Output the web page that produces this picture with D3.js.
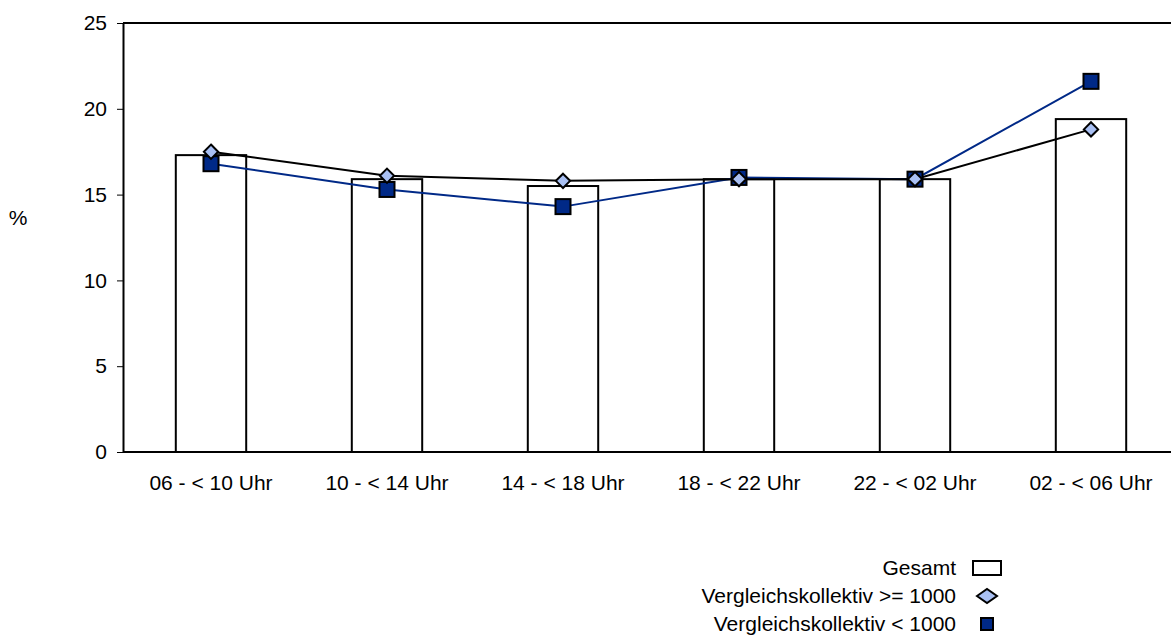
<!DOCTYPE html>
<html>
<head>
<meta charset="utf-8">
<script src="https://cdn.jsdelivr.net/npm/d3@7"></script>
<style>
  html, body { margin: 0; padding: 0; background: #fff; }
  svg { display: block; font-family: "Liberation Sans", Arial, sans-serif; }
</style>
</head>
<body>
<svg id="chart" width="1171" height="637"></svg>
<script>
// Time windows of the day
const categories = ["06 - < 10 Uhr", "10 - < 14 Uhr", "14 - < 18 Uhr", "18 - < 22 Uhr", "22 - < 02 Uhr", "02 - < 06 Uhr"];
// Share in percent
const gesamt = [17.3, 15.9, 15.5, 15.9, 15.9, 19.4];
const vergleichGross = [17.5, 16.1, 15.8, 15.9, 15.9, 18.8];
const vergleichKlein = [16.8, 15.3, 14.3, 16.0, 15.9, 21.6];
const yTicks = [0, 5, 10, 15, 20, 25];
const seriesNames = ["Gesamt", "Vergleichskollektiv >= 1000", "Vergleichskollektiv < 1000"];

const svg = d3.select("#chart");
const plotLeft = 123, plotTop = 23, plotBottom = 452, plotRight = 1179;
const fontSize = 21;
const fontFamily = "Liberation Sans, Arial, sans-serif";

const x = d3.scaleBand().domain(categories).range([plotLeft, plotRight]).paddingInner(0.6).paddingOuter(0.3);
const y = d3.scaleLinear().domain([0, 25]).range([plotBottom, plotTop]);

const darkBlue = "#002987";
const lightBlue = "#a9c0f3";

// Top frame line
svg.append("line").attr("x1", plotLeft).attr("x2", plotRight).attr("y1", y(25)).attr("y2", y(25))
  .attr("stroke", "#000").attr("stroke-width", 2);

// Y axis
const yAxis = svg.append("g").attr("transform", `translate(${plotLeft},0)`)
  .call(d3.axisLeft(y).tickValues(yTicks).tickSize(6).tickPadding(10).tickSizeOuter(0));
yAxis.attr("font-size", fontSize).attr("font-family", fontFamily);
yAxis.select(".domain").attr("stroke", "#000").attr("stroke-width", 2);
yAxis.selectAll(".tick line").attr("stroke", "#000").attr("stroke-width", 1);
yAxis.selectAll(".tick text").attr("fill", "#000");

// Bars
const cx = d => x(d) + x.bandwidth() / 2;
svg.append("g").selectAll("rect").data(categories).join("rect")
  .attr("x", d => x(d))
  .attr("width", x.bandwidth())
  .attr("y", (d, i) => y(gesamt[i]))
  .attr("height", (d, i) => y(0) - y(gesamt[i]))
  .attr("fill", "#fff").attr("stroke", "#000").attr("stroke-width", 2);

// X axis baseline
svg.append("line").attr("x1", plotLeft).attr("x2", plotRight).attr("y1", y(0)).attr("y2", y(0))
  .attr("stroke", "#000").attr("stroke-width", 2);

// X axis labels
const xAxis = svg.append("g").attr("transform", `translate(0,${y(0)})`)
  .call(d3.axisBottom(x).tickSize(0).tickPadding(23));
xAxis.attr("font-size", fontSize).attr("font-family", fontFamily);
xAxis.select(".domain").remove();
xAxis.selectAll(".tick text").attr("fill", "#000");

// Lines
const line = d3.line().x((d, i) => cx(categories[i])).y(d => y(d));
svg.append("path").datum(vergleichKlein).attr("d", line)
  .attr("fill", "none").attr("stroke", darkBlue).attr("stroke-width", 2);
svg.append("path").datum(vergleichGross).attr("d", line)
  .attr("fill", "none").attr("stroke", "#000").attr("stroke-width", 2);

// Square markers
const sq = 15;
svg.append("g").selectAll("rect").data(vergleichKlein).join("rect")
  .attr("x", (d, i) => cx(categories[i]) - sq / 2)
  .attr("y", d => y(d) - sq / 2)
  .attr("width", sq).attr("height", sq)
  .attr("fill", darkBlue).attr("stroke", "#000").attr("stroke-width", 2);

// Diamond markers
const dia = d3.symbol().type(d3.symbolDiamond2).size(130);
svg.append("g").selectAll("path").data(vergleichGross).join("path")
  .attr("d", dia)
  .attr("transform", (d, i) => `translate(${cx(categories[i])},${y(d)})`)
  .attr("fill", lightBlue).attr("stroke", "#000").attr("stroke-width", 2);

// Y axis unit label
svg.append("text").attr("x", 18).attr("y", 225).attr("text-anchor", "middle")
  .attr("font-size", fontSize).attr("font-family", fontFamily).text("%");

// Legend
const lg = svg.append("g").attr("font-size", fontSize).attr("font-family", fontFamily);
const legendX = 956, markX = 987;
const legendBase = [575, 603, 631];
const legendMid = [568, 596, 624];
lg.selectAll("text").data(seriesNames).join("text")
  .attr("x", legendX).attr("y", (d, i) => legendBase[i])
  .attr("text-anchor", "end").text(d => d);
lg.append("rect").attr("x", markX - 14).attr("y", legendMid[0] - 7).attr("width", 28).attr("height", 14)
  .attr("fill", "#fff").attr("stroke", "#000").attr("stroke-width", 2);
lg.append("path").attr("d", "M-10,0L0,-7L10,0L0,7Z")
  .attr("transform", `translate(${markX},${legendMid[1]})`)
  .attr("fill", lightBlue).attr("stroke", "#000").attr("stroke-width", 2);
lg.append("rect").attr("x", markX - 6).attr("y", legendMid[2] - 6).attr("width", 12).attr("height", 12)
  .attr("fill", darkBlue).attr("stroke", "#000").attr("stroke-width", 2);
</script>
</body>
</html>
